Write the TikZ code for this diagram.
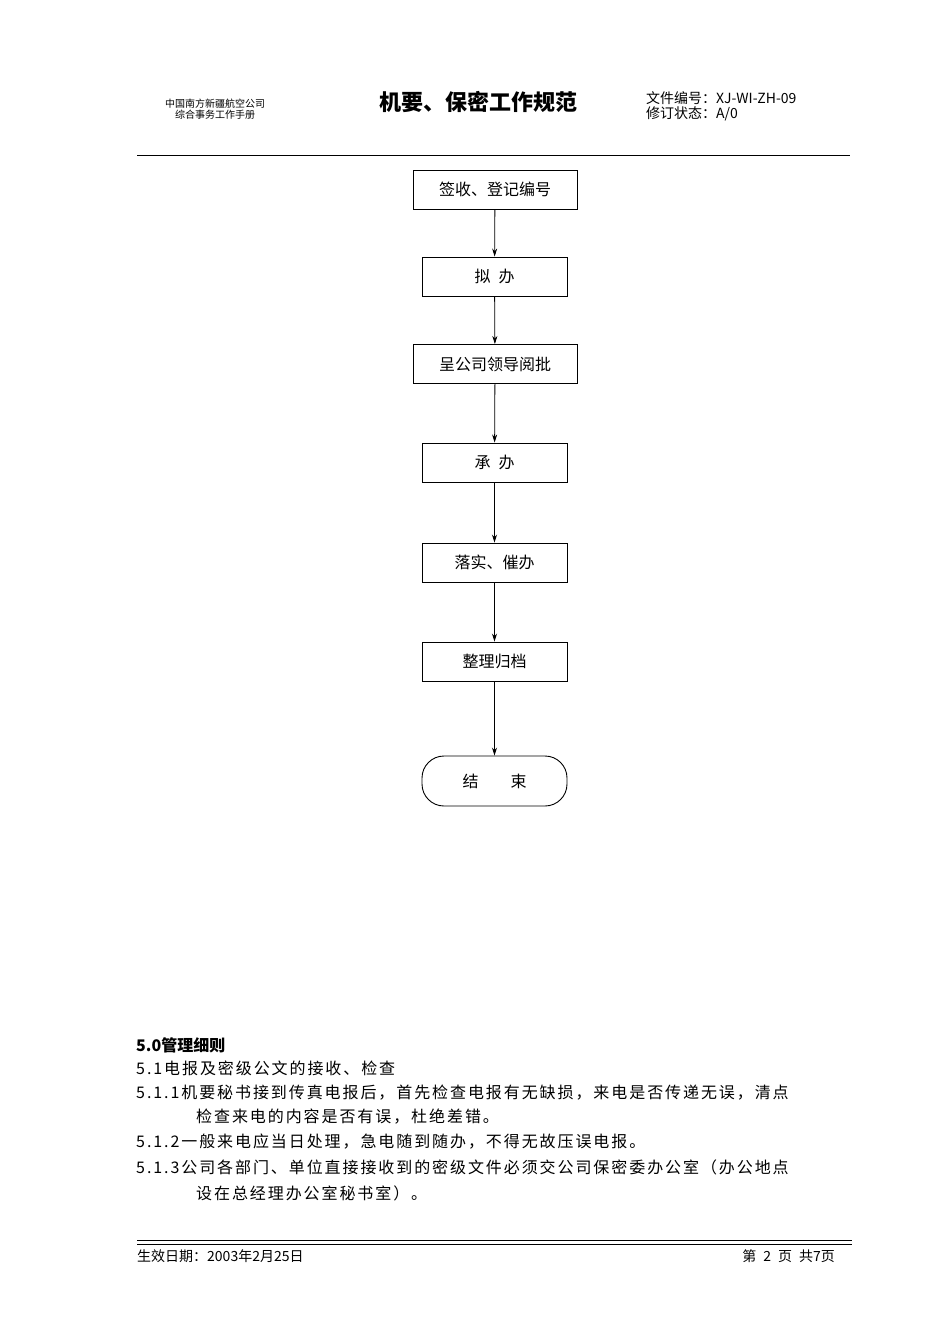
\documentclass[tikz,border=0pt]{standalone}
\usepackage{fontspec}
\newfontfamily\cjk{Noto Sans CJK SC}
\newfontfamily\cjks[LetterSpace=12]{Noto Sans CJK SC}
\usetikzlibrary{arrows.meta}
\tikzset{box/.style={draw,line width=0.9pt,minimum height=39pt,font=\cjk\fontsize{16}{18}\selectfont,inner sep=0pt},
arr/.style={-{Stealth[length=8pt,width=5pt]},line width=0.8pt},
body/.style={anchor=west,inner sep=0pt,font=\cjks\fontsize{16}{18}\selectfont}}
\begin{document}
\begin{tikzpicture}[x=1pt,y=-1pt]
\useasboundingbox (0,0) rectangle (950,1344);
\node[font=\cjk\fontsize{10}{11}\selectfont,align=center] (h1) at (215,109) {中国南方新疆航空公司\\综合事务工作手册};
\node[font=\cjk\bfseries\fontsize{22}{24}\selectfont] (tt) at (478,102) {机要、保密工作规范};
\node[font=\cjk\fontsize{14}{15}\selectfont,anchor=west,align=left,inner sep=0pt] (h2) at (646,106) {文件编号：XJ-WI-ZH-09\\修订状态：A/0};
\draw[line width=1pt] (137,155) -- (850,155);
\node[box,minimum width=164pt] (b1) at (495,189.5) {签收、登记编号};
\node[box,minimum width=145pt] (b2) at (494.5,276.5) {拟\enspace 办};
\node[box,minimum width=164pt] (b3) at (495,364) {呈公司领导阅批};
\node[box,minimum width=145pt] (b4) at (494.5,462.5) {承\enspace 办};
\node[box,minimum width=145pt] (b5) at (494.5,562.5) {落实、催办};
\node[box,minimum width=145pt] (b6) at (494.5,661.5) {整理归档};
\node[box,minimum width=145pt,minimum height=50pt,rounded corners=22pt] (b7) at (494.5,781) {结\qquad 束};
\foreach \a/\b in {b1/b2,b2/b3,b3/b4,b4/b5,b5/b6,b6/b7} \draw[arr] (\a) -- (\b);
\node[body,font=\cjk\bfseries\fontsize{16}{18}\selectfont] (t0) at (136,1045) {5.0管理细则};
\node[body] (t1) at (136,1068) {5.1电报及密级公文的接收、检查};
\node[body] (t2) at (136,1093) {5.1.1机要秘书接到传真电报后，首先检查电报有无缺损，来电是否传递无误，清点};
\node[body] (t3) at (196,1117) {检查来电的内容是否有误，杜绝差错。};
\node[body] (t4) at (136,1142) {5.1.2一般来电应当日处理，急电随到随办，不得无故压误电报。};
\node[body] (t5) at (136,1167) {5.1.3公司各部门、单位直接接收到的密级文件必须交公司保密委办公室（办公地点};
\node[body] (t6) at (196,1193) {设在总经理办公室秘书室）。};
\draw[line width=1pt] (137,1240) -- (852,1240);
\draw[line width=0.6pt] (137,1244) -- (852,1244);
\node[anchor=west,inner sep=0pt,font=\cjk\fontsize{14}{16}\selectfont] (f1) at (137,1256) {生效日期：2003年2月25日};
\node[anchor=east,inner sep=0pt,font=\cjk\fontsize{14}{16}\selectfont] (f2) at (835,1256) {第\enspace 2\enspace 页\enspace 共7页};
\end{tikzpicture}
\end{document}
